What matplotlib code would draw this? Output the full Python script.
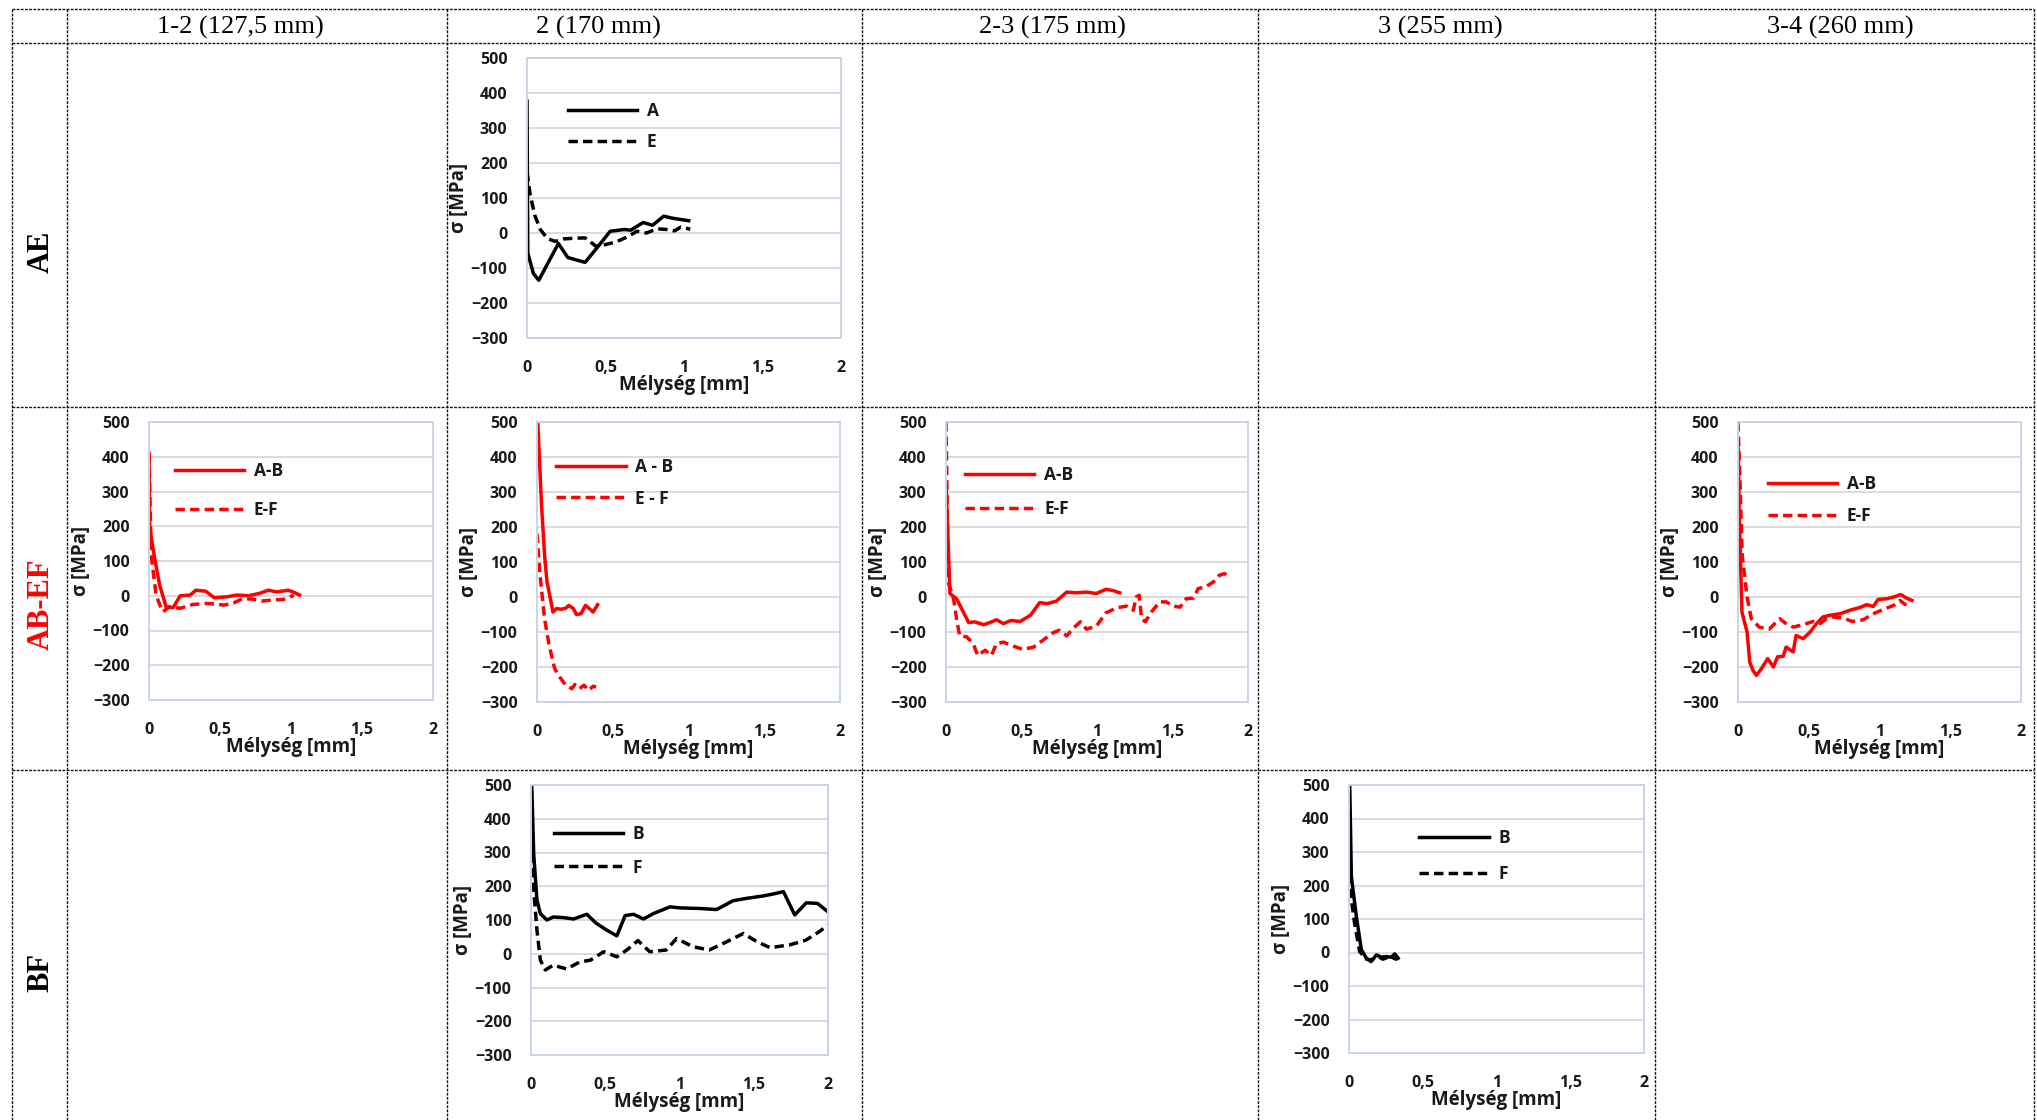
import matplotlib
matplotlib.use("Agg")
import matplotlib.pyplot as plt
from matplotlib.lines import Line2D

# ---------------------------------------------------------------- data
column_titles = ["1-2 (127,5 mm)", "2 (170 mm)", "2-3 (175 mm)", "3 (255 mm)", "3-4 (260 mm)"]
row_titles = ["AE", "AB-EF", "BF"]
row_title_colors = ["black", "red", "black"]

y_ticks = [-300, -200, -100, 0, 100, 200, 300, 400, 500]
x_ticks = [0, 0.5, 1, 1.5, 2]
x_tick_labels = ["0", "0,5", "1", "1,5", "2"]

# AE, 2 (170 mm)
ae_a_depth = [0, 0.005, 0.04, 0.075, 0.2, 0.26, 0.37, 0.45, 0.53, 0.62, 0.66, 0.74, 0.8, 0.87, 0.93, 1.03]
ae_a_stress = [377, -57, -115, -135, -30, -70, -84, -40, 5, 10, 8, 30, 22, 48, 42, 35]
ae_e_depth = [0, 0.02, 0.05, 0.085, 0.13, 0.18, 0.23, 0.3, 0.37, 0.44, 0.5, 0.57, 0.64, 0.7,
              0.76, 0.83, 0.89, 0.94, 0.98, 1.04]
ae_e_stress = [175, 110, 50, 10, -16, -24, -17, -15, -14, -38, -33, -25, -11, 5, 0, 12, 10, 6, 17, 11]

# AB-EF, 1-2 (127,5 mm)
abef12_ab_depth = [0, 0.005, 0.04, 0.075, 0.12, 0.17, 0.22, 0.29, 0.33, 0.40, 0.46, 0.55, 0.62,
                   0.70, 0.78, 0.84, 0.90, 0.98, 1.02, 1.06]
abef12_ab_stress = [410, 195, 107, 31, -32, -34, 0, 2, 16, 13, -6, -3, 2, 0, 7, 16, 11, 16, 10, 2]
abef12_ef_depth = [0, 0.015, 0.05, 0.085, 0.1, 0.14, 0.22, 0.31, 0.40, 0.47, 0.53, 0.6, 0.66,
                   0.73, 0.8, 0.88, 0.96, 1.02]
abef12_ef_stress = [410, 117, 2, -36, -46, -32, -36, -25, -22, -24, -27, -20, -8, -10, -15, -12, -10, 2]

# AB-EF, 2 (170 mm)
abef2_ab_depth = [0.005, 0.03, 0.05, 0.066, 0.095, 0.105, 0.13, 0.16, 0.19, 0.21, 0.24, 0.26,
                  0.29, 0.32, 0.35, 0.37, 0.40]
abef2_ab_stress = [500, 262, 119, 43, -19, -43, -33, -35, -32, -24, -33, -50, -48, -24, -35, -43, -22]
abef2_ef_depth = [0, 0.018, 0.05, 0.08, 0.117, 0.15, 0.19, 0.23, 0.25, 0.28, 0.31, 0.34, 0.37, 0.39]
abef2_ef_stress = [181, 71, -62, -138, -205, -229, -252, -262, -250, -262, -252, -267, -255, -257]

# AB-EF, 2-3 (175 mm)
abef23_ab_depth = [0, 0.026, 0.07, 0.115, 0.15, 0.19, 0.25, 0.29, 0.335, 0.38, 0.43, 0.49, 0.56,
                   0.62, 0.67, 0.73, 0.80, 0.86, 0.93, 0.996, 1.06, 1.11, 1.15]
abef23_ab_stress = [330, 10, -5, -43, -73, -71, -79, -73, -65, -76, -67, -70, -52, -16, -19, -12,
                    14, 12, 14, 10, 22, 18, 12]
abef23_ef_depth = [0, 0.015, 0.05, 0.07, 0.09, 0.137, 0.18, 0.21, 0.26, 0.30, 0.335, 0.38, 0.445,
                   0.51, 0.58, 0.64, 0.71, 0.75, 0.80, 0.84, 0.89, 0.93, 0.996, 1.06, 1.13, 1.195,
                   1.24, 1.26, 1.28, 1.295, 1.32, 1.36, 1.415, 1.46, 1.50, 1.55, 1.59, 1.64, 1.67,
                   1.72, 1.77, 1.81, 1.845, 1.88]
abef23_ef_stress = [500, 43, -5, -62, -110, -114, -133, -167, -152, -167, -133, -129, -140, -150,
                    -143, -124, -102, -95, -111, -90, -71, -92, -83, -45, -31, -26, -38, 0, 5,
                    -62, -71, -43, -14, -14, -26, -29, -5, -3, 24, 29, 43, 62, 67, 52]

# AB-EF, 3-4 (260 mm)
abef34_ab_depth = [0, 0.01, 0.028, 0.064, 0.083, 0.106, 0.13, 0.165, 0.21, 0.25, 0.28, 0.32, 0.34,
                   0.39, 0.41, 0.46, 0.51, 0.555, 0.60, 0.65, 0.72, 0.79, 0.86, 0.91, 0.956, 0.99,
                   1.05, 1.10, 1.15, 1.19, 1.23]
abef34_ab_stress = [452, 214, -43, -100, -186, -210, -224, -205, -176, -200, -171, -169, -143,
                    -157, -110, -119, -100, -76, -57, -52, -48, -38, -30, -22, -27, -7, -5, 0, 7,
                    -3, -10]
abef34_ef_depth = [0, 0.012, 0.03, 0.064, 0.094, 0.15, 0.22, 0.295, 0.34, 0.39, 0.46, 0.53, 0.58,
                   0.625, 0.67, 0.74, 0.81, 0.885, 0.956, 1.03, 1.10, 1.145, 1.19]
abef34_ef_stress = [500, 357, 119, 0, -62, -86, -92, -62, -76, -86, -79, -70, -76, -62, -57, -60,
                    -70, -65, -48, -35, -24, -10, -24]

# BF, 2 (170 mm)
bf2_b_depth = [0.005, 0.018, 0.04, 0.063, 0.107, 0.15, 0.22, 0.287, 0.376, 0.44, 0.51, 0.578,
               0.634, 0.69, 0.757, 0.824, 0.936, 1.0, 1.14, 1.25, 1.36, 1.45, 1.56, 1.63, 1.70,
               1.776, 1.854, 1.93, 2.0]
bf2_b_stress = [500, 297, 159, 119, 100, 109, 107, 103, 117, 90, 70, 53, 113, 117, 103, 119, 139,
                136, 134, 131, 157, 164, 171, 177, 184, 115, 151, 149, 124]
bf2_f_depth = [0.005, 0.022, 0.04, 0.063, 0.096, 0.15, 0.24, 0.33, 0.40, 0.49, 0.578, 0.645, 0.72,
               0.80, 0.91, 0.98, 1.09, 1.2, 1.32, 1.43, 1.52, 1.61, 1.74, 1.85, 1.94, 2.0]
bf2_f_stress = [297, 169, 70, -19, -48, -34, -45, -24, -19, 6, -9, 11, 39, 6, 11, 45, 21, 11, 36,
                60, 36, 18, 26, 40, 65, 85]

# BF, 3 (255 mm)
bf3_b_depth = [0.005, 0.016, 0.05, 0.084, 0.118, 0.15, 0.186, 0.22, 0.25, 0.287, 0.31, 0.333]
bf3_b_stress = [500, 227, 107, 8, -17, -27, -7, -14, -12, -14, -4, -17]
bf3_f_depth = [0, 0.005, 0.038, 0.072, 0.118, 0.15, 0.197, 0.23, 0.276, 0.32, 0.333]
bf3_f_stress = [495, 197, 87, 3, -20, -22, -12, -20, -12, -20, -12]

# ---------------------------------------------------------------- figure
W, H = 2037, 1120
fig = plt.figure(figsize=(W / 100, H / 100), dpi=100)

SANS = ["Open Sans", "DejaVu Sans"]
SERIF = ["Liberation Serif", "DejaVu Serif"]
TEXT = "#1a1a1a"
DASH = (0, (2.7, 1.5))


def fx(px):
    return px / W


def fy(py):
    return 1 - py / H


# table grid
grid_style = dict(color="#111111", lw=1.0, linestyle=(0, (2.0, 1.0)), transform=fig.transFigure)
for xv in [12, 67, 447, 862, 1258, 1655, 2034]:
    fig.add_artist(Line2D([fx(xv), fx(xv)], [fy(9), fy(1120)], **grid_style))
for yv in [9, 43, 407, 770]:
    fig.add_artist(Line2D([fx(12), fx(2034)], [fy(yv), fy(yv)], **grid_style))

for title, xc in zip(column_titles, [240, 598, 1052, 1440, 1840]):
    fig.text(fx(xc), fy(27), title, ha="center", va="center", fontsize=19, family=SERIF)

for title, color, yc in zip(row_titles, row_title_colors, [252, 604, 973]):
    fig.text(fx(41), fy(yc), title, ha="center", va="center", rotation=90, fontsize=22,
             fontweight="bold", family=SERIF, color=color)


def panel(rect, series, legend_anchor, legend_gap):
    left, top, right, bottom = rect
    ax = fig.add_axes([fx(left), fy(bottom), (right - left) / W, (bottom - top) / H])
    ax.set_xlim(0, 2)
    ax.set_ylim(-300, 500)
    ax.set_yticks(y_ticks)
    ax.set_xticks(x_ticks, x_tick_labels)
    ax.tick_params(axis="both", length=0, labelsize=11.5, colors=TEXT)
    ax.tick_params(axis="y", pad=14)
    ax.tick_params(axis="x", pad=16)
    for lbl in ax.get_xticklabels() + ax.get_yticklabels():
        lbl.set_fontweight("bold")
        lbl.set_family(SANS)
    ax.grid(axis="y", color="#d9d9d9", lw=1.3)
    ax.set_axisbelow(True)
    for sp in ax.spines.values():
        sp.set_color("#c8d5e8")
        sp.set_linewidth(1.4)
    ax.set_xlabel("Mélység [mm]", fontsize=13.5, fontweight="bold", family=SANS, color=TEXT,
                  labelpad=-1)
    ax.set_ylabel("σ [MPa]", fontsize=13.5, fontweight="bold", family=SANS, color=TEXT,
                  labelpad=1)
    for depth, stress, color, style, label in series:
        ax.plot(depth, stress, color=color, lw=2.5, linestyle=style, label=label,
                solid_joinstyle="round", dash_joinstyle="round")
    fs_px = 12.5 * 100 / 72
    ax.legend(loc="center left", bbox_to_anchor=legend_anchor, bbox_transform=ax.transAxes,
              frameon=False, borderpad=0, borderaxespad=0, handlelength=4.0,
              handletextpad=0.55, labelspacing=legend_gap / fs_px - 1.25,
              prop=dict(family=SANS, weight="bold", size=12.5))
    for t in ax.get_legend().get_texts():
        t.set_color(TEXT)
    return ax


panel((527, 58, 841, 338),
      [(ae_a_depth, ae_a_stress, "black", "-", "A"),
       (ae_e_depth, ae_e_stress, "black", DASH, "E")],
      (0.13, 0.755), 35)

panel((149, 422, 433, 700),
      [(abef12_ab_depth, abef12_ab_stress, "red", "-", "A-B"),
       (abef12_ef_depth, abef12_ef_stress, "red", DASH, "E-F")],
      (0.09, 0.753), 43)

panel((537, 422, 840, 702),
      [(abef2_ab_depth, abef2_ab_stress, "red", "-", "A - B"),
       (abef2_ef_depth, abef2_ef_stress, "red", DASH, "E - F")],
      (0.064, 0.7825), 35)

panel((946, 422, 1248, 702),
      [(abef23_ab_depth, abef23_ab_stress, "red", "-", "A-B"),
       (abef23_ef_depth, abef23_ef_stress, "red", DASH, "E-F")],
      (0.063, 0.75), 37)

panel((1738, 422, 2021, 702),
      [(abef34_ab_depth, abef34_ab_stress, "red", "-", "A-B"),
       (abef34_ef_depth, abef34_ef_stress, "red", DASH, "E-F")],
      (0.105, 0.722), 36)

panel((531, 785, 828, 1055),
      [(bf2_b_depth, bf2_b_stress, "black", "-", "B"),
       (bf2_f_depth, bf2_f_stress, "black", DASH, "F")],
      (0.076, 0.756), 37)

panel((1349, 785, 1644, 1053),
      [(bf3_b_depth, bf3_b_stress, "black", "-", "B"),
       (bf3_f_depth, bf3_f_stress, "black", DASH, "F")],
      (0.2375, 0.736), 40)

fig.savefig("out.png", dpi=100)
